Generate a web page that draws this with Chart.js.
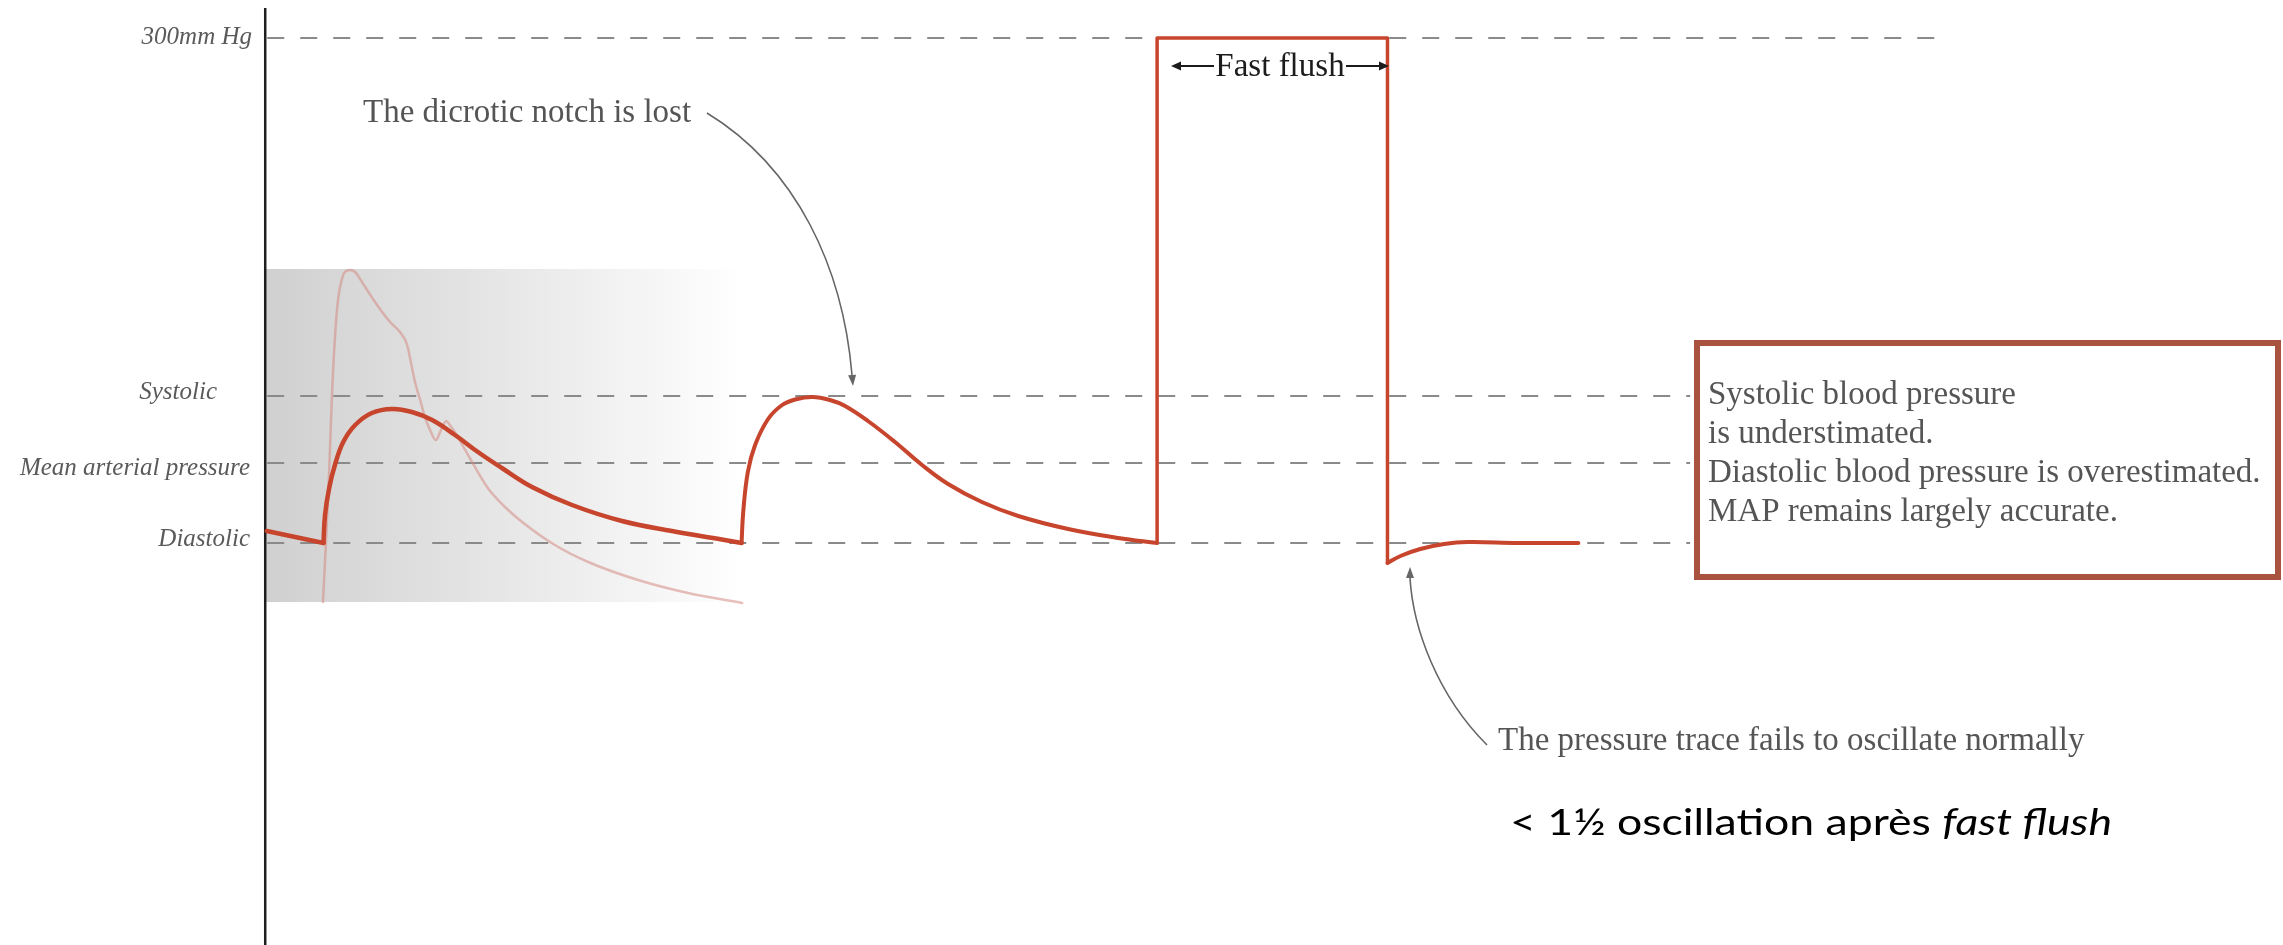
<!DOCTYPE html>
<html>
<head>
<meta charset="utf-8">
<script src="https://cdn.jsdelivr.net/npm/chart.js@4.4.1/dist/chart.umd.min.js"></script>
<style>
html,body{margin:0;padding:0;background:#fff;overflow:hidden}
canvas{display:block}
</style>
</head>
<body>
<canvas id="c" width="2283" height="945"></canvas>
<script>
// ---------- DATA (time in s, pressure in schematic mmHg units) ----------
const preBeatT = [0.003, 0.112];
const preBeatP = [53.5, 47.5];

const beat1T = [0.112,0.115,0.123,0.134,0.150,0.173,0.205,0.244,0.282,0.321,0.365,0.409,0.455,0.513,0.590,0.686,0.782,0.878,0.916];
const beat1P = [47.5,61.5,75,86.5,98,106.5,112.5,114.5,113,109,101.5,93,85,75.5,66.5,58.5,53.5,49.25,47.5];

const beat2T = [0.916,0.919,0.928,0.942,0.967,0.994,1.019,1.052,1.086,1.115,1.159,1.211,1.263,1.313,1.378,1.448,1.544,1.640,1.715];
const beat2P = [47.5,62.5,83,96.5,109.5,116.5,119.25,120.5,119,116,108.5,98,86.5,77,68,61,54.5,50,47.5];

const flushT = [1.715,1.715,2.158,2.158];
const flushP = [47.5,300,300,37.5];

const recoveryT = [2.158,2.183,2.221,2.267,2.312,2.408,2.525];
const recoveryP = [37.5,41,44.5,47,48,47.5,47.5];

// faint "normal" waveform shown for comparison
const normalT = [0.111,0.117,0.123,0.128,0.134,0.140,0.146,0.153,0.163,0.173,0.186,0.211,0.240,0.259,0.273,0.280,0.288,0.298,0.307,0.317,0.328,0.338,0.348,0.355,0.367,0.390,0.428,0.461,0.494,0.557,0.621,0.717,0.813,0.917];
const normalP = [18,49,84,119,150,169,178,183,184,183,178,168,158,153,146.5,138,128,119,110.5,104,99,104,108.5,106.5,102,91.5,75,65.5,58,46.5,38,29,22.5,17.5];

// reference pressure levels
const refLevels = [300, 121, 87.5, 47.5];
const refLabels = ['300mm Hg', 'Systolic', 'Mean arterial pressure', 'Diastolic'];
const refEndT   = [3.228, 2.74, 2.74, 2.74];

// shaded comparison region
const shadeT = [0, 0.917];
const shadeP = [18, 184.5];

// text
const dicroticText = 'The dicrotic notch is lost';
const flushText = 'Fast flush';
const boxLines = ['Systolic blood pressure', 'is understimated.', 'Diastolic blood pressure is overestimated.', 'MAP remains largely accurate.'];
const oscText = 'The pressure trace fails to oscillate normally';
const noteMain = '< 1½ oscillation après ';
const noteItalic = 'fast flush';

// ---------- helpers ----------
const zip = (t, p) => t.map((v, i) => ({x: v, y: p[i]}));
const RED = '#c7452d';
const SERIF = '"Liberation Serif", "DejaVu Serif", serif';
const SANS = 'Lato, "Open Sans", sans-serif';

function arrowHead(ctx, x, y, dx, dy, len, hw) {
  const l = Math.hypot(dx, dy); const ux = dx / l, uy = dy / l;
  ctx.beginPath();
  ctx.moveTo(x, y);
  ctx.lineTo(x - ux * len - uy * hw, y - uy * len + ux * hw);
  ctx.lineTo(x - ux * len + uy * hw, y - uy * len - ux * hw);
  ctx.closePath();
  ctx.fill();
}

const decorPlugin = {
  id: 'decor',
  beforeDatasetsDraw(chart) {
    const {ctx} = chart;
    const xs = chart.scales.x, ys = chart.scales.y;
    const X = v => xs.getPixelForValue(v), Y = v => ys.getPixelForValue(v);
    ctx.save();
    // gradient shaded box
    const x0 = X(shadeT[0]), x1 = X(shadeT[1]), yTop = Y(shadeP[1]), yBot = Y(shadeP[0]);
    const g = ctx.createLinearGradient(x0, 0, x1, 0);
    g.addColorStop(0, '#d0d0d0');
    g.addColorStop(0.4, '#e2e2e2');
    g.addColorStop(0.8, '#f5f5f5');
    g.addColorStop(1, '#ffffff');
    ctx.fillStyle = g;
    ctx.fillRect(x0, yTop, x1 - x0, yBot - yTop);
    // dashed reference lines
    ctx.setLineDash([17, 16]);
    ctx.strokeStyle = '#8a8a8a';
    ctx.lineWidth = 2;
    refLevels.forEach((lv, i) => {
      const y = Math.round(Y(lv));
      ctx.beginPath();
      ctx.moveTo(X(0) + 2, y);
      ctx.lineTo(X(refEndT[i]), y);
      ctx.stroke();
    });
    ctx.setLineDash([]);
    // vertical axis
    ctx.strokeStyle = '#1e1e1e';
    ctx.lineWidth = 2.5;
    ctx.beginPath();
    ctx.moveTo(X(0), 8);
    ctx.lineTo(X(0), chart.height);
    ctx.stroke();
    ctx.restore();
  },
  afterDatasetsDraw(chart) {
    const {ctx} = chart;
    const ys = chart.scales.y;
    const Y = v => ys.getPixelForValue(v);
    ctx.save();
    // reference labels
    ctx.font = 'italic 25px ' + SERIF;
    ctx.fillStyle = '#5a5a5a';
    ctx.textAlign = 'right';
    ctx.textBaseline = 'alphabetic';
    const labelRight = [252, 217, 250, 250];
    const labelDy = [6, 3, 12, 3];
    refLabels.forEach((s, i) => ctx.fillText(s, labelRight[i], Y(refLevels[i]) + labelDy[i]));

    // dicrotic notch annotation
    ctx.textAlign = 'left';
    ctx.font = '33px ' + SERIF;
    ctx.fillStyle = '#555';
    ctx.fillText(dicroticText, 363, 122);
    ctx.strokeStyle = '#666';
    ctx.fillStyle = '#666';
    ctx.lineWidth = 1.6;
    ctx.beginPath();
    ctx.moveTo(707, 113);
    ctx.bezierCurveTo(797, 168, 843, 268, 852, 375);
    ctx.stroke();
    arrowHead(ctx, 853, 386, 1, 12, 11, 4);

    // fast flush label
    ctx.font = '33px ' + SERIF;
    ctx.fillStyle = '#1c1c1c';
    ctx.textAlign = 'center';
    ctx.fillText(flushText, 1280, 76);
    ctx.strokeStyle = '#1c1c1c';
    ctx.fillStyle = '#1c1c1c';
    ctx.lineWidth = 1.8;
    ctx.beginPath();
    ctx.moveTo(1214, 66); ctx.lineTo(1178, 66);
    ctx.moveTo(1346, 66); ctx.lineTo(1382, 66);
    ctx.stroke();
    arrowHead(ctx, 1171, 66, -1, 0, 10, 4.5);
    arrowHead(ctx, 1389, 66, 1, 0, 10, 4.5);

    // text box
    ctx.fillStyle = '#ffffff';
    ctx.fillRect(1697, 343, 581, 234);
    ctx.strokeStyle = '#a9523f';
    ctx.lineWidth = 6;
    ctx.strokeRect(1697, 343, 581, 234);
    ctx.font = '33px ' + SERIF;
    ctx.fillStyle = '#555';
    ctx.textAlign = 'left';
    const boxBase = [404, 443, 482, 521];
    boxLines.forEach((s, i) => ctx.fillText(s, 1708, boxBase[i]));

    // oscillation annotation
    ctx.fillText(oscText, 1498, 750);
    ctx.strokeStyle = '#666';
    ctx.fillStyle = '#666';
    ctx.lineWidth = 1.6;
    ctx.beginPath();
    ctx.moveTo(1487, 745);
    ctx.bezierCurveTo(1437, 695, 1413, 628, 1410, 578);
    ctx.stroke();
    arrowHead(ctx, 1410, 567, 0, -1, 11, 4);

    // French note (stretched horizontally to the reference's width)
    ctx.fillStyle = '#000';
    ctx.font = '37px ' + SANS;
    const w1 = ctx.measureText(noteMain).width;
    ctx.font = 'italic 37px ' + SANS;
    const w2 = ctx.measureText(noteItalic).width;
    const sx = 602 / (w1 + w2);
    ctx.translate(1510, 835);
    ctx.scale(sx, 1);
    ctx.font = '37px ' + SANS;
    ctx.fillText(noteMain, 0, 0);
    ctx.font = 'italic 37px ' + SANS;
    ctx.fillText(noteItalic, w1, 0);
    ctx.restore();
  }
};

function build() {
  new Chart(document.getElementById('c'), {
    type: 'line',
    data: {
      datasets: [
        {data: zip(normalT, normalP), borderColor: 'rgba(212,138,132,0.55)', borderWidth: 2.5, cubicInterpolationMode: 'monotone', order: 10},
        {data: zip(preBeatT, preBeatP), borderColor: RED, borderWidth: 4.5, tension: 0, order: 1},
        {data: zip(beat1T, beat1P), borderColor: RED, borderWidth: 4.5, tension: 0.4, order: 1},
        {data: zip(beat2T, beat2P), borderColor: RED, borderWidth: 4, tension: 0.4, order: 1},
        {data: zip(flushT, flushP), borderColor: RED, borderWidth: 3.5, tension: 0, order: 1},
        {data: zip(recoveryT, recoveryP), borderColor: RED, borderWidth: 4, tension: 0.4, order: 1}
      ]
    },
    options: {
      responsive: false,
      animation: false,
      devicePixelRatio: 1,
      layout: {padding: 0},
      elements: {
        point: {radius: 0, hoverRadius: 0},
        line: {fill: false, borderCapStyle: 'round', borderJoinStyle: 'round'}
      },
      plugins: {legend: {display: false}, tooltip: {enabled: false}},
      events: [],
      scales: {
        x: {type: 'linear', min: -0.51, max: 3.88, display: false},
        y: {type: 'linear', min: -153.5, max: 319, display: false}
      }
    },
    plugins: [decorPlugin]
  });
}
if (document.fonts && document.fonts.load) {
  Promise.all([
    document.fonts.load('33px "Liberation Serif"'),
    document.fonts.load('italic 25px "Liberation Serif"'),
    document.fonts.load('37px Lato'),
    document.fonts.load('italic 37px Lato')
  ]).then(build, build);
} else { build(); }
</script>
</body>
</html>
